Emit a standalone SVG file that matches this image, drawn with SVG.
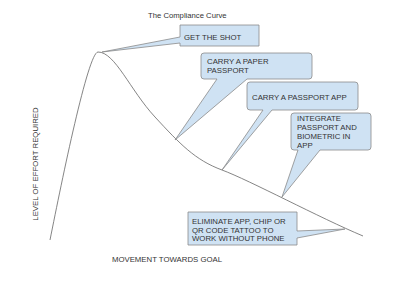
<svg xmlns="http://www.w3.org/2000/svg" width="400" height="300" viewBox="0 0 400 300">
<style>
text{font-family:"Liberation Sans",Arial,sans-serif;font-size:7.8px;fill:#333}
.co{fill:#cfe2f3;stroke:#8a8a8a;stroke-width:0.8;stroke-linejoin:round}
.curve{fill:none;stroke:#666;stroke-width:0.8}
</style>
<rect width="400" height="300" fill="#fff"/>
<text x="148" y="18" style="font-size:7.7px">The Compliance Curve</text>
<g id="connectors">
<path class="curve" d="M50,240 C62,180 88,52 98,52 C115,52 130,90 155,117 S195,160 222,170 S320,218 363,236"/>
</g>
<g id="n1">
<path class="co" d="M180,25 H259 V46 H180 V43 L102,52 L180,37 Z"/>
<text x="184" y="39.5">GET THE SHOT</text>
</g>
<g id="n2">
<path class="co" d="M204,53 H309 Q312,53 312,56 V76 Q312,79 309,79 H247 L175,140 L217,79 H204 Q201,79 201,76 V56 Q201,53 204,53 Z"/>
<text x="207" y="64">CARRY A PAPER</text>
<text x="207" y="73">PASSPORT</text>
</g>
<g id="n3">
<path class="co" d="M250,82 H355 Q358,82 358,85 V107 Q358,110 355,110 H272 L222,170 L263,110 H250 Q247,110 247,107 V85 Q247,82 250,82 Z"/>
<text x="252" y="99.5">CARRY A PASSPORT APP</text>
</g>
<g id="n4">
<path class="co" d="M294,113 H368 Q371,113 371,116 V147 Q371,150 368,150 H320 L282,197 L298,150 H294 Q291,150 291,147 V116 Q291,113 294,113 Z"/>
<text x="297" y="121">INTEGRATE</text>
<text x="297" y="130">PASSPORT AND</text>
<text x="297" y="139">BIOMETRIC IN</text>
<text x="297" y="148">APP</text>
</g>
<g id="n5">
<path class="co" d="M188,212 H297 V231 L345,229 L297,238 V245 H188 Z"/>
<text x="192" y="224">ELIMINATE APP, CHIP OR</text>
<text x="192" y="232.5">QR CODE TATTOO TO</text>
<text x="192" y="241">WORK WITHOUT PHONE</text>
</g>
<text x="167" y="262" text-anchor="middle">MOVEMENT TOWARDS GOAL</text>
<text transform="translate(37.5,164) rotate(-90)" text-anchor="middle">LEVEL OF EFFORT REQUIRED</text>
</svg>
